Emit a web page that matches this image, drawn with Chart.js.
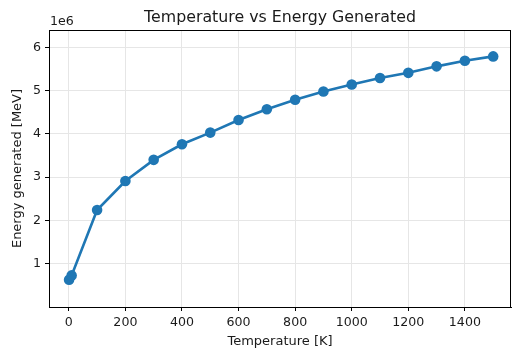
<!DOCTYPE html>
<html>
<head>
<meta charset="utf-8">
<script src="https://cdn.jsdelivr.net/npm/chart.js@4.4.0/dist/chart.umd.min.js"></script>
<style>
  html, body { margin: 0; padding: 0; background: #fff; }
  #wrap { width: 512px; height: 349px; }
</style>
</head>
<body>
<div id="wrap"><canvas id="chart" width="512" height="349"></canvas></div>
<script>
// values
const temperatures = [1, 10, 100, 200, 300, 400, 500, 600, 700, 800, 900, 1000, 1100, 1200, 1300, 1400, 1500];
const energyMeV = [0.63e6, 0.73e6, 2.24e6, 2.91e6, 3.40e6, 3.76e6, 4.03e6, 4.32e6, 4.57e6, 4.79e6, 4.98e6, 5.14e6, 5.29e6, 5.41e6, 5.56e6, 5.69e6, 5.79e6];
const xTicks = [0, 200, 400, 600, 800, 1000, 1200, 1400];
const yTicks = [1e6, 2e6, 3e6, 4e6, 5e6, 6e6];

const FONT = "'DejaVu Sans', sans-serif";
const TEXT = '#1a1a1a';

// extra text and the box around the axes, like matplotlib
const framePlugin = {
    id: 'frame',
    afterDraw(chart) {
        const ctx = chart.ctx;
        const a = chart.chartArea;
        ctx.save();
        ctx.strokeStyle = '#000';
        ctx.lineWidth = 1;
        ctx.strokeRect(a.left + 0.5, a.top + 0.5, a.right - a.left - 1, a.bottom - a.top);
        ctx.fillStyle = TEXT;
        ctx.font = '15.8px ' + FONT;
        ctx.textAlign = 'center';
        ctx.textBaseline = 'alphabetic';
        ctx.fillText('Temperature vs Energy Generated', (a.left + a.right) / 2, 22);
        ctx.font = '12.6px ' + FONT;
        ctx.textAlign = 'left';
        ctx.fillText('1e6', a.left + 1, 25);
        ctx.restore();
    }
};

new Chart(document.getElementById('chart'), {
    type: 'line',
    data: {
        datasets: [{
            data: temperatures.map((t, i) => ({ x: t, y: energyMeV[i] })),
            borderColor: '#1f77b4',
            backgroundColor: '#1f77b4',
            borderWidth: 2.6,
            pointRadius: 5.3,
            pointHoverRadius: 5.3,
            pointBorderWidth: 0,
            tension: 0
        }]
    },
    options: {
        responsive: false,
        animation: false,
        layout: { autoPadding: false, padding: { top: 30, right: 1, left: 0, bottom: 0 } },
        plugins: { legend: { display: false }, tooltip: { enabled: false } },
        scales: {
            x: {
                type: 'linear',
                min: -70,
                max: 1563,
                afterBuildTicks: s => { s.ticks = xTicks.map(v => ({ value: v })); },
                afterFit: s => { s.height = 42; s.paddingLeft = 0; s.paddingRight = 0; },
                grid: { color: '#e6e6e6', tickColor: '#000', tickLength: 4, drawOnChartArea: true },
                border: { color: '#000' },
                ticks: { color: TEXT, font: { family: FONT, size: 12.6 }, padding: 4, maxRotation: 0, callback: v => String(v) },
                title: { display: true, text: 'Temperature [K]', color: TEXT, font: { family: FONT, size: 13 }, padding: { top: 0, bottom: 0 } }
            },
            y: {
                min: 0,
                max: 6.4e6,
                afterBuildTicks: s => { s.ticks = yTicks.map(v => ({ value: v })); },
                afterFit: s => { s.width = 49; },
                grid: { color: '#e6e6e6', tickColor: '#000', tickLength: 4 },
                border: { color: '#000' },
                ticks: { color: TEXT, font: { family: FONT, size: 12.6 }, padding: 4, callback: v => String(v / 1e6) },
                title: { display: true, text: 'Energy generated [MeV]', color: TEXT, font: { family: FONT, size: 13 }, padding: { top: 10, bottom: 0 } }
            }
        }
    },
    plugins: [framePlugin]
});
</script>
</body>
</html>
